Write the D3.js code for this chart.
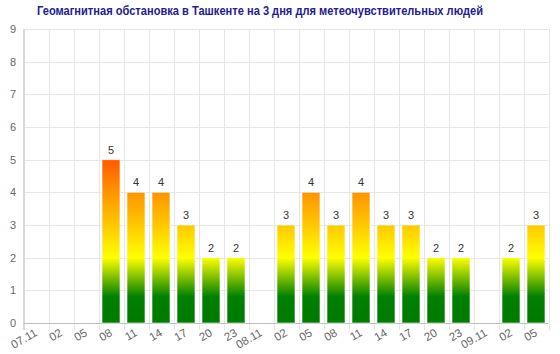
<!DOCTYPE html>
<html><head><meta charset="utf-8">
<script src="https://cdn.jsdelivr.net/npm/d3@7"></script>
<style>body{margin:0;background:#fff}svg{display:block}</style>
</head><body>
<svg id="c" width="560" height="354"></svg>
<script>
const title = "Геомагнитная обстановка в Ташкенте на 3 дня для метеочувствительных людей";
const categories = ["07.11","02","05","08","11","14","17","20","23","08.11","02","05","08","11","14","17","20","23","09.11","02","05"];
const values = [0,0,0,5,4,4,3,2,2,0,3,4,3,4,3,3,2,2,0,2,3];
const yTicks = [0,1,2,3,4,5,6,7,8,9];

const svg = d3.select("#c");
const m = {l:23.5, r:11.5, t:29, b:31};
const W = 560, H = 354;
const ids = categories.map((c,i)=>i);
const x = d3.scaleBand().domain(ids).range([m.l, W-m.r]).paddingInner(0.28).paddingOuter(0.14);
const xg = d3.scaleBand().domain(ids).range([m.l, W-m.r]);
const y = d3.scaleLinear().domain([0,9]).range([H-m.b, m.t]);

const defs = svg.append("defs");
const grad = defs.append("linearGradient").attr("id","g").attr("gradientUnits","userSpaceOnUse")
  .attr("x1",0).attr("x2",0).attr("y1",y(0)).attr("y2",y(9));
const stops = [[0,"#007a00"],[0.8,"#008000"],[2,"#ffff00"],[3,"#ffc800"],[4,"#ff9400"],[5,"#ff5a00"],[9,"#ff0000"]];
stops.forEach(s=>grad.append("stop").attr("offset",s[0]/9).attr("stop-color",s[1]));

svg.append("g").selectAll("line").data(yTicks).join("line")
  .attr("x1",m.l).attr("x2",W-m.r).attr("y1",d=>Math.round(y(d))+0.5).attr("y2",d=>Math.round(y(d))+0.5)
  .attr("stroke","#e6e6e6");
const vx = ids.map(i=>xg(i)).concat([W-m.r]);
svg.append("g").selectAll("line").data(vx).join("line")
  .attr("x1",d=>Math.round(d)+0.5).attr("x2",d=>Math.round(d)+0.5).attr("y1",m.t).attr("y2",H-m.b+7)
  .attr("stroke","#e6e6e6");
svg.append("line").attr("x1",m.l+0.5).attr("x2",m.l+0.5).attr("y1",m.t).attr("y2",H-m.b+7)
  .attr("stroke","#d8d8d8").attr("stroke-width",2);
svg.append("line").attr("x1",m.l).attr("x2",W-m.r).attr("y1",Math.round(y(0))+0.5).attr("y2",Math.round(y(0))+0.5)
  .attr("stroke","#c0c0c0");

svg.append("g").selectAll("text").data(yTicks).join("text")
  .attr("x",16).attr("y",d=>y(d)+4).attr("text-anchor","end")
  .attr("font-family","Liberation Sans, Arial, sans-serif").attr("font-size",11).attr("fill","#666")
  .text(d=>d);

svg.append("g").selectAll("text").data(ids).join("text")
  .attr("transform",i=>`translate(${xg(i)+xg.bandwidth()/2+2},${y(0)+12}) rotate(-30)`)
  .attr("text-anchor","end")
  .attr("font-family","Liberation Sans, Arial, sans-serif").attr("font-size",11.5).attr("fill","#666")
  .text(i=>categories[i]);

const bd = ids.filter(i=>values[i]>0);
svg.append("g").selectAll("rect").data(bd).join("rect")
  .attr("x",i=>x(i)).attr("width",x.bandwidth())
  .attr("y",i=>y(values[i])).attr("height",i=>y(0)-y(values[i]))
  .attr("fill","url(#g)").attr("stroke","#ffffff").attr("stroke-opacity",0.6).attr("stroke-width",1);

svg.append("g").selectAll("text").data(bd).join("text")
  .attr("x",i=>x(i)+x.bandwidth()/2).attr("y",i=>y(values[i])-6).attr("text-anchor","middle")
  .attr("font-family","Liberation Sans, Arial, sans-serif").attr("font-size",11).attr("fill","#333")
  .text(i=>values[i]);

svg.append("text").attr("x",37).attr("y",14.5)
  .attr("textLength",446).attr("lengthAdjust","spacingAndGlyphs")
  .attr("font-family","Liberation Sans, Arial, sans-serif").attr("font-size",13).attr("font-weight","bold")
  .attr("fill","#22228c").text(title);
</script>
</body></html>
